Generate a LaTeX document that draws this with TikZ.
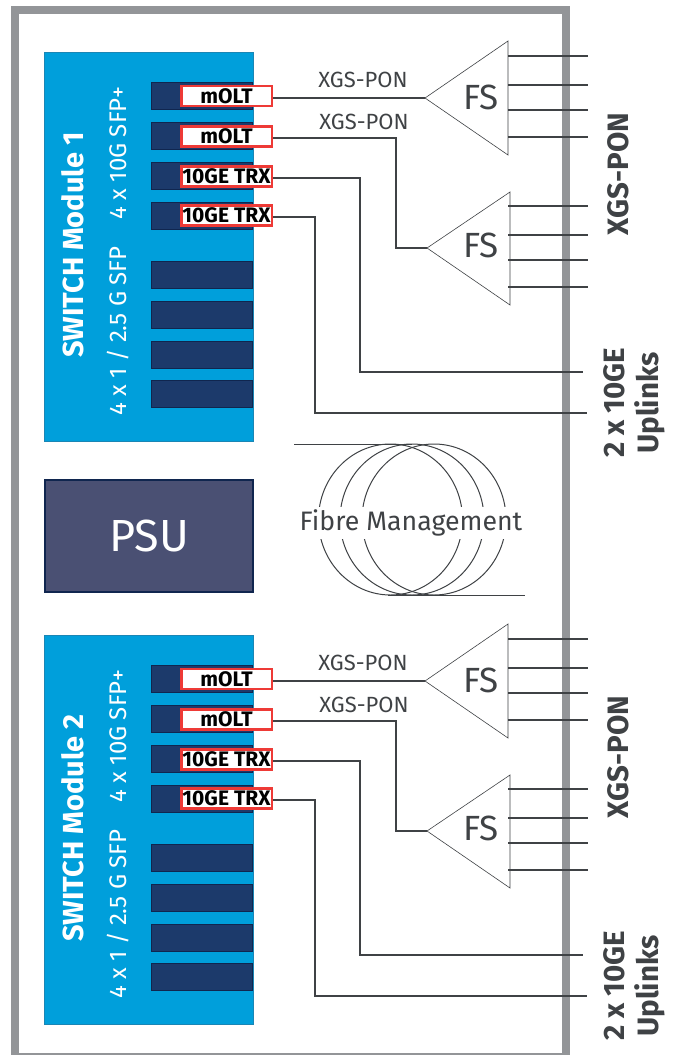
\documentclass[tikz,border=0pt]{standalone}
\usepackage{fontspec}
\setmainfont{Fira Sans}
\usetikzlibrary{shapes.geometric}
\definecolor{framegrey}{HTML}{939598}
\definecolor{modblue}{HTML}{009FDB}
\definecolor{modedge}{HTML}{1A86B5}
\definecolor{portblue}{HTML}{1C3A6B}
\definecolor{portedge}{HTML}{10264F}
\definecolor{psublue}{HTML}{4A5073}
\definecolor{linegrey}{HTML}{3F4245}
\definecolor{trxred}{HTML}{EE3A36}
\tikzstyle{module}=[draw=modedge, fill=modblue, line width=1pt, minimum width=209pt, minimum height=389pt, inner sep=0pt]
\tikzstyle{port}=[draw=portedge, fill=portblue, line width=1.5pt, minimum width=101pt, minimum height=27pt, inner sep=0pt]
\tikzstyle{trx}=[draw=trxred, fill=white, line width=2.5pt, minimum width=90.5pt, minimum height=20pt, inner sep=0pt, font=\bfseries\fontsize{21}{21}\selectfont, text=black]
\tikzstyle{splitter}=[draw=linegrey, line width=.6pt, fill=white]
\tikzstyle{fibre}=[draw=linegrey, line width=1.4pt]
\tikzstyle{whitetext}=[text=white, rotate=90, inner sep=0pt, font=\fontsize{24}{24}\selectfont]
\tikzstyle{pontext}=[text=linegrey, inner sep=0pt, font=\fontsize{22}{22}\selectfont]
\tikzstyle{fstext}=[text=linegrey, inner sep=0pt, font=\fontsize{35}{35}\selectfont]
\tikzstyle{sidetext}=[text=linegrey, rotate=90, inner sep=0pt, align=center, font=\bfseries\fontsize{29.5}{34}\selectfont]
\begin{document}
\begin{tikzpicture}[x=1pt, y=-1pt]
\useasboundingbox (0,0) rectangle (678,1055);
\node[draw=framegrey, line width=7.5pt, minimum width=551pt, minimum height=1047pt, inner sep=0pt] (frame) at (290.5,533.5) {};
% the two modules only differ by their height
\foreach \m/\dy in {1/0, 2/583}{
	\node[module] (mod\m) at (149,246.5+\dy) {};
	\node[whitetext, font=\bfseries\fontsize{29}{29}\selectfont] (name\m) at (73,245+\dy) {SWITCH Module \m};
	\node[whitetext] (fast\m) at (118,153+\dy) {4 x 10G SFP+};
	\node[whitetext] (slow\m) at (118,331+\dy) {4 x 1 / 2.5 G SFP};
	\foreach \i/\y in {1/96, 2/136, 3/176, 4/216, 5/275, 6/315, 7/355, 8/394}{
		\node[port] (p\m\i) at (202,\y+\dy) {};
	}
	\node[trx] (olta\m) at (226.5,96+\dy) {mOLT};
	\node[trx] (oltb\m) at (226.5,136.5+\dy) {mOLT};
	\node[trx] (trxa\m) at (226.5,176.5+\dy) {10GE TRX};
	\node[trx] (trxb\m) at (226.5,215.5+\dy) {10GE TRX};
	\coordinate (fsa\m) at (425,98+\dy);
	\coordinate (fsb\m) at (427,248+\dy);
	\draw[splitter] (fsa\m) -- (508,41+\dy) -- (508,155+\dy) -- cycle;
	\draw[splitter] (fsb\m) -- (510,192+\dy) -- (510,305+\dy) -- cycle;
	\node[fstext] (fsatext\m) at (481,97+\dy) {FS};
	\node[fstext] (fsbtext\m) at (481,245+\dy) {FS};
	\node[pontext] (pona\m) at (363,80+\dy) {XGS-PON};
	\node[pontext] (ponb\m) at (364,122+\dy) {XGS-PON};
	\foreach \i/\y in {1/56, 2/85, 3/110, 4/137}{
		\coordinate (oa\m\i) at (508,\y+\dy);
		\coordinate (ea\m\i) at (588,\y+\dy);
		\draw[fibre] (oa\m\i) -- (ea\m\i);
	}
	\foreach \i/\y in {1/206, 2/235, 3/260, 4/287}{
		\coordinate (ob\m\i) at (508,\y+\dy);
		\coordinate (eb\m\i) at (588,\y+\dy);
		\draw[fibre] (ob\m\i) -- (eb\m\i);
	}
	\coordinate (upa\m) at (583,372+\dy);
	\coordinate (upb\m) at (587,413+\dy);
	\draw[fibre] ([yshift=-2pt]olta\m.east) -- (fsa\m);
	\draw[fibre] ([yshift=-1.5pt]oltb\m.east) -- (396,138+\dy) -- (396,248+\dy) -- (fsb\m);
	\draw[fibre] ([yshift=-1.5pt]trxa\m.east) -- (360,178+\dy) -- (360,372+\dy) -- (upa\m);
	\draw[fibre] ([yshift=-1.5pt]trxb\m.east) -- (315,217+\dy) -- (315,413+\dy) -- (upb\m);
	\node[sidetext] (xgs\m) at (618,174+\dy) {XGS-PON};
	\node[sidetext] (uplink\m) at (634,403+\dy) {2 x 10GE\\Uplinks};
}
\node[draw=portedge, fill=psublue, line width=2pt, minimum width=208pt, minimum height=112pt, inner sep=0pt, text=white, font=\fontsize{45}{45}\selectfont] (psu) at (149,536) {PSU};
% fibre coil
\foreach \i/\x in {1/390.5, 2/412, 3/434}{
	\node[draw=linegrey, line width=1pt, ellipse, minimum width=144pt, minimum height=151pt, inner sep=0pt] (loop\i) at (\x,519.5) {};
}
\coordinate (coila) at (294,444);
\coordinate (coilb) at (525,595);
\draw[fibre, line width=1pt] (coila) -- (412,444);
\draw[fibre, line width=1pt] (388,595) -- (coilb);
\node[fill=white, text=linegrey, inner sep=3pt, font=\fontsize{26.7}{26.7}\selectfont] (coiltext) at (411,523) {Fibre Management};
\end{tikzpicture}
\end{document}
